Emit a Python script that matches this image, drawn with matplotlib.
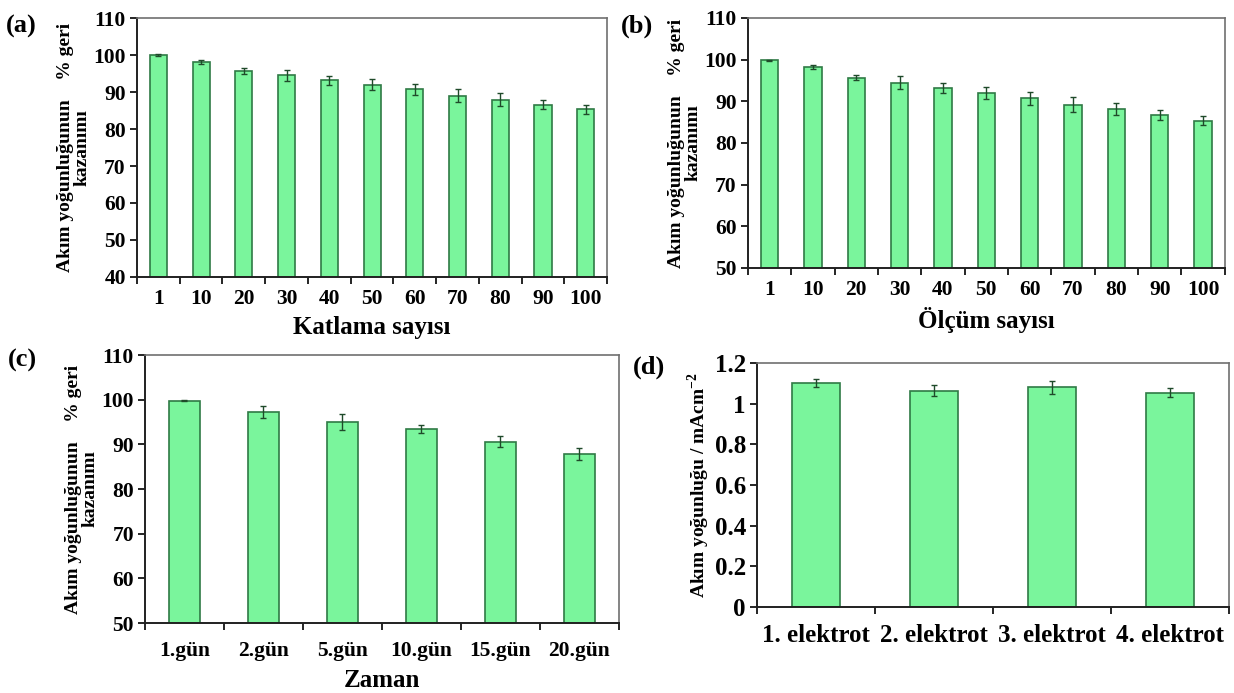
import matplotlib
matplotlib.use("Agg")
import matplotlib.pyplot as plt
import numpy as np

plt.rcParams['font.family'] = ['Liberation Serif', 'DejaVu Serif']
plt.rcParams['font.weight'] = 'bold'
plt.rcParams['mathtext.fontset'] = 'custom'
plt.rcParams['mathtext.rm'] = 'Liberation Serif:bold'
plt.rcParams['mathtext.bf'] = 'Liberation Serif:bold'

# ---- data ----
cats_a = ['1', '10', '20', '30', '40', '50', '60', '70', '80', '90', '100']
vals_a = [100.0, 98.2, 95.7, 94.5, 93.2, 92.0, 90.7, 89.0, 87.9, 86.6, 85.3]
errs_a = [0.2, 0.5, 0.7, 1.5, 1.2, 1.5, 1.5, 1.8, 1.8, 1.3, 1.2]

cats_b = ['1', '10', '20', '30', '40', '50', '60', '70', '80', '90', '100']
vals_b = [99.8, 98.2, 95.7, 94.5, 93.2, 92.0, 90.7, 89.2, 88.2, 86.6, 85.3]
errs_b = [0.2, 0.5, 0.6, 1.5, 1.2, 1.5, 1.5, 1.8, 1.5, 1.2, 1.1]

cats_c = ['1.gün', '2.gün', '5.gün', '10.gün', '15.gün', '20.gün']
vals_c = [99.8, 97.3, 95.0, 93.4, 90.6, 87.8]
errs_c = [0.2, 1.3, 1.7, 0.9, 1.2, 1.4]

cats_d = ['1. elektrot', '2. elektrot', '3. elektrot', '4. elektrot']
vals_d = [1.10, 1.065, 1.08, 1.055]
errs_d = [0.02, 0.025, 0.03, 0.02]

face = '#7af59c'
edge = '#2f7a45'

fig = plt.figure(figsize=(12.34, 6.93), dpi=100)

def panel(rect, cats, vals, errs, ylim, yticks, ylabel, xlabel, letter, letter_xy,
          tfs=15.5, xpad=9, lpad=5, ytickfmt=None):
    ax = fig.add_axes(rect)
    x = np.arange(len(cats))
    ax.bar(x, vals, width=0.4, color=face, edgecolor=edge, linewidth=1.2, zorder=2)
    ax.errorbar(x, vals, yerr=errs, fmt='none', ecolor='#1f4a2a', elinewidth=1.0,
                capsize=2.5, capthick=1.0, zorder=3)
    ax.set_xlim(-0.5, len(cats) - 0.5)
    ax.set_ylim(*ylim)
    ax.set_yticks(yticks)
    if ytickfmt:
        ax.set_yticklabels([ytickfmt(v) for v in yticks])
    ax.set_xticks(x)
    ax.set_xticklabels(cats)
    ax.set_xticks(np.arange(len(cats) + 1) - 0.5, minor=True)
    ax.tick_params(axis='x', which='major', length=0, labelsize=tfs, pad=xpad)
    ax.tick_params(axis='x', which='minor', length=5, direction='out', width=1.2)
    ax.tick_params(axis='y', labelsize=tfs, direction='out', length=5, width=1.2, pad=3)
    for lab in ax.get_xticklabels() + ax.get_yticklabels():
        lab.set_fontweight('bold')
    for s in ['top', 'right']:
        ax.spines[s].set_color('#707070')
        ax.spines[s].set_linewidth(1.2)
    for s in ['left', 'bottom']:
        ax.spines[s].set_color('#202020')
        ax.spines[s].set_linewidth(1.4)
    ax.set_ylabel(ylabel, fontsize=14, fontweight='bold', linespacing=0.95, labelpad=2)
    if xlabel:
        ax.set_xlabel(xlabel, fontsize=18, fontweight='bold', labelpad=lpad)
    fig.text(letter_xy[0], letter_xy[1], letter, fontsize=19, fontweight='bold',
             ha='left', va='center')
    return ax

ylab = 'Akım yoğunluğunun    % geri\nkazanımı'

panel([0.111, 0.6003, 0.381, 0.3737], cats_a, vals_a, errs_a, (40, 110),
      range(40, 111, 10), ylab, 'Katlama sayısı', '(a)', (0.005, 0.962))
panel([0.606, 0.6133, 0.3865, 0.3608], cats_b, vals_b, errs_b, (50, 110),
      range(50, 111, 10), ylab, 'Ölçüm sayısı', '(b)', (0.503, 0.962))
panel([0.1175, 0.101, 0.384, 0.3867], cats_c, vals_c, errs_c, (50, 110),
      range(50, 111, 10), ylab, 'Zaman', '(c)', (0.006, 0.48), xpad=13, lpad=6)
panel([0.6135, 0.1241, 0.3825, 0.352], cats_d, vals_d, errs_d, (0, 1.2),
      [0, 0.2, 0.4, 0.6, 0.8, 1.0, 1.2], 'Akım yoğunluğu / mAcm$^{-2}$', None, '(d)',
      (0.513, 0.47), tfs=18, xpad=12,
      ytickfmt=lambda v: '0' if v == 0 else ('1' if v == 1 else f'{v:.1f}'))

fig.savefig('out.png', dpi=100)
